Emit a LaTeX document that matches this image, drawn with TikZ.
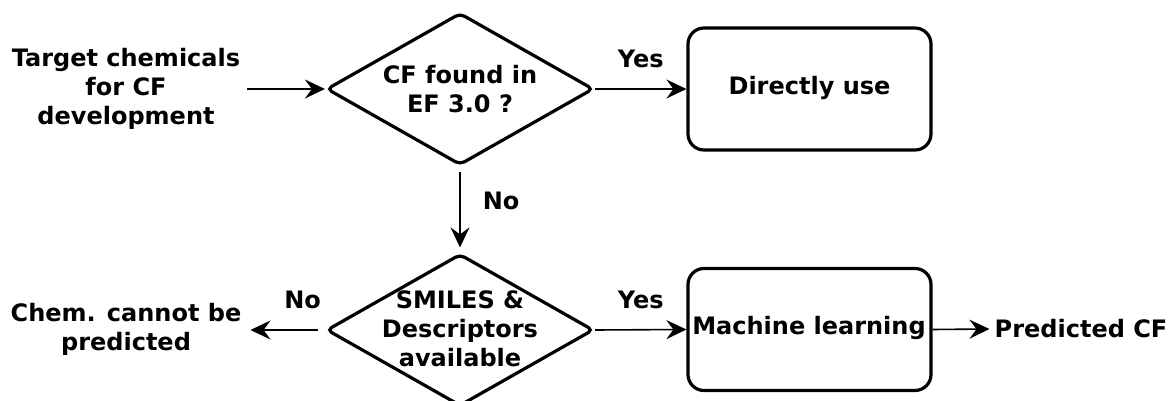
\documentclass[tikz,border=0pt]{standalone}
\usepackage{fontspec}
\setmainfont{DejaVu Sans}
\usetikzlibrary{shapes.geometric,arrows.meta}
\tikzset{
  txt/.style={font=\fontsize{24}{29}\selectfont\bfseries, align=center, inner sep=0pt},
  dec/.style={draw, line width=3.2pt, shape=diamond, rounded corners=5pt, minimum width=267pt, minimum height=152pt, inner sep=0pt},
  procbox/.style={draw, line width=3.2pt, rounded corners=16pt, minimum width=243pt, minimum height=122pt, inner sep=0pt},
  conn/.style={line width=1.6pt, -{Stealth[length=20pt,width=19pt,inset=7pt]}},
  lbl/.style={font=\fontsize{24}{29}\selectfont\bfseries, inner sep=0pt}
}
\begin{document}
\begin{tikzpicture}[x=1pt,y=-1pt]
\useasboundingbox (0,0) rectangle (1168,401);
\clip (0,0) rectangle (1168,401);
\fill[white] (0,0) rectangle (1168,401);
% nodes
\node[txt] (target) at (126,89) {Target chemicals\\for CF\\development};
\node[dec] (d1) at (460,89) {};
\node[txt] (d1t) at (460,89) {CF found in\\EF 3.0 ?};
\node[procbox] (direct) at (809.5,89) {};
\node[txt] (directt) at (809.5,88) {Directly use};
\node[dec] (d2) at (460,330) {};
\node[txt] (d2t) at (460,329) {SMILES \&\\Descriptors\\available};
\node[procbox] (ml) at (809.5,329.5) {};
\node[txt] (mlt) at (809,328) {Machine learning};
\node[txt] (chem) at (126,329) {Chem. cannot be\\predicted};
\node[txt] (pred) at (1081,329) {Predicted CF};
% connectors
\draw[conn] (target.east) ++(7,0) coordinate (s1) -- (d1.west);
\draw[conn] (d1.east) -- (direct.west) node[lbl, pos=0.5, above=20pt] (yes1) {Yes};
\draw[conn, shorten <=5pt, shorten >=5pt] (d1.south) -- (d2.north) node[lbl, pos=0.4, right=22pt] (no1) {No};
\draw[conn, shorten <=7pt] (d2.west) -- ([xshift=9pt]chem.east |- d2.west) coordinate (e2) node[lbl, pos=0.3, above=20pt] (no2) {No};
\draw[conn] (d2.east) -- (ml.west) node[lbl, pos=0.5, above=20pt] (yes2) {Yes};
\draw[conn] (ml.east) -- ([xshift=-5pt]pred.west);
\end{tikzpicture}
\end{document}
